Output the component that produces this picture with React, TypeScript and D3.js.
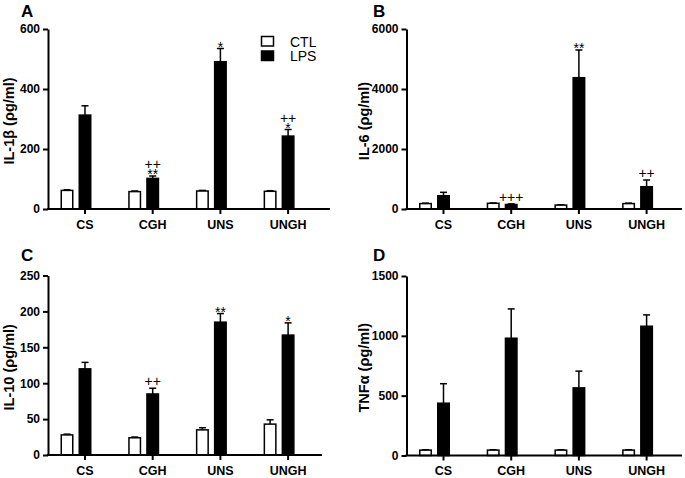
import * as d3 from "d3";
import { useEffect, useRef } from "react";

// groups and series
const categories = ["CS", "CGH", "UNS", "UNGH"];
const seriesNames = ["CTL", "LPS"];

// IL-1b (pg/ml)
const il1bCtl = [62, 58, 60, 59];
const il1bCtlSem = [2, 2, 2, 2];
const il1bLps = [313, 102, 491, 243];
const il1bLpsSem = [31, 8, 44, 22];
const il1bMarks = [[], ["++", "**"], ["*"], ["++", "*"]];

// IL-6 (pg/ml)
const il6Ctl = [180, 190, 130, 180];
const il6CtlSem = [15, 10, 10, 15];
const il6Lps = [443, 150, 4377, 743];
const il6LpsSem = [113, 20, 923, 224];
const il6Marks = [[], ["+++"], ["**"], ["++"]];

// IL-10 (pg/ml)
const il10Ctl = [28, 24, 35, 43];
const il10CtlSem = [1, 1, 3, 6];
const il10Lps = [120, 85, 185, 167];
const il10LpsSem = [9, 8, 12, 17];
const il10Marks = [[], ["++"], ["**"], ["*"]];

// TNFa (pg/ml)
const tnfCtl = [45, 45, 45, 45];
const tnfCtlSem = [3, 3, 3, 3];
const tnfLps = [437, 980, 565, 1080];
const tnfLpsSem = [163, 245, 140, 95];
const tnfMarks = [[], [], [], []];

const panels = [
    { letter: "A", title: "IL-1β (ρg/ml)", ctl: il1bCtl, ctlSem: il1bCtlSem, lps: il1bLps, lpsSem: il1bLpsSem, marks: il1bMarks, ticks: [0, 200, 400, 600] },
    { letter: "B", title: "IL-6 (ρg/ml)", ctl: il6Ctl, ctlSem: il6CtlSem, lps: il6Lps, lpsSem: il6LpsSem, marks: il6Marks, ticks: [0, 2000, 4000, 6000] },
    { letter: "C", title: "IL-10 (ρg/ml)", ctl: il10Ctl, ctlSem: il10CtlSem, lps: il10Lps, lpsSem: il10LpsSem, marks: il10Marks, ticks: [0, 50, 100, 150, 200, 250] },
    { letter: "D", title: "TNFα (ρg/ml)", ctl: tnfCtl, ctlSem: tnfCtlSem, lps: tnfLps, lpsSem: tnfLpsSem, marks: tnfMarks, ticks: [0, 500, 1000, 1500] },
];

// where each panel sits on the page
const layout = [
    { axisX: 48, axisEnd: 330, yTop: 29, yBottom: 209, titleX: 14, letterX: 21, letterY: 17 },
    { axisX: 406.5, axisEnd: 682, yTop: 29, yBottom: 209, titleX: 369, letterX: 373, letterY: 17 },
    { axisX: 48, axisEnd: 322, yTop: 275.5, yBottom: 455, titleX: 14, letterX: 21, letterY: 261 },
    { axisX: 406.5, axisEnd: 682, yTop: 276, yBottom: 455.5, titleX: 369, letterX: 373, letterY: 261 },
];

const FONT = "'Liberation Sans', Arial, sans-serif";

export default function App() {
    const svgRef = useRef<SVGSVGElement | null>(null);

    useEffect(() => {
        document.body.style.margin = "0";
        if (!svgRef.current) return;
        const svg = d3.select(svgRef.current);
        svg.selectAll("*").remove();

        panels.forEach((p, pi) => {
            const L = layout[pi];
            const g = svg.append("g");

            const yScale = d3.scaleLinear()
                .domain([0, p.ticks[p.ticks.length - 1]])
                .range([L.yBottom, L.yTop]);

            // groups of 67.7px, first bar 12.5px right of the axis
            const xGroup = d3.scaleBand<string>()
                .domain(categories)
                .range([L.axisX + 12.5, L.axisX + 12.5 + 67.7 * 4])
                .padding(0);

            const xInner = d3.scaleBand<string>()
                .domain(seriesNames)
                .range([0, 31])
                .paddingInner(5 / 18)
                .paddingOuter(0);

            const bw = xInner.bandwidth();

            // bars
            categories.forEach((c, i) => {
                const gx = xGroup(c)!;
                const rows = [
                    { name: "CTL", v: p.ctl[i], sem: p.ctlSem[i], fill: "white" },
                    { name: "LPS", v: p.lps[i], sem: p.lpsSem[i], fill: "black" },
                ];
                rows.forEach((r) => {
                    const x = gx + xInner(r.name)!;
                    const cx = x + bw / 2;
                    const top = yScale(r.v);
                    const errTop = yScale(r.v + r.sem);
                    // error bar (upper only)
                    g.append("line")
                        .attr("x1", cx).attr("x2", cx)
                        .attr("y1", top).attr("y2", errTop)
                        .attr("stroke", "black").attr("stroke-width", 1.5);
                    g.append("line")
                        .attr("x1", cx - 3.5).attr("x2", cx + 3.5)
                        .attr("y1", errTop).attr("y2", errTop)
                        .attr("stroke", "black").attr("stroke-width", 1.5);
                    g.append("rect")
                        .attr("x", x + 0.75)
                        .attr("y", top)
                        .attr("width", bw - 1.5)
                        .attr("height", L.yBottom - top)
                        .attr("fill", r.fill)
                        .attr("stroke", "black")
                        .attr("stroke-width", 1.5);
                });

                // significance marks above the LPS bar, stacked in one text
                const marks = p.marks[i];
                if (marks.length) {
                    const cx = gx + xInner("LPS")! + bw / 2;
                    const errTop = yScale(p.lps[i] + p.lpsSem[i]);
                    const last = marks[marks.length - 1];
                    const base = last.includes("*") ? errTop + 3 : errTop - 2;
                    const rowGap = 10;
                    const t = g.append("text")
                        .attr("text-anchor", "middle")
                        .style("font-family", FONT)
                        .style("font-size", "14px");
                    marks.forEach((m, k) => {
                        t.append("tspan")
                            .attr("x", cx)
                            .attr("y", base - (marks.length - 1 - k) * rowGap)
                            .text(m);
                    });
                }
            });

            // y axis
            const yAxis = g.append("g")
                .attr("transform", `translate(${L.axisX},0)`)
                .call(d3.axisLeft(yScale).tickValues(p.ticks).tickFormat(d3.format("d")).tickSize(5).tickPadding(3).tickSizeOuter(0));
            yAxis.select(".domain").attr("stroke-width", 2);
            yAxis.selectAll(".tick line").attr("stroke-width", 2);
            yAxis.selectAll(".tick text")
                .style("font-family", FONT)
                .style("font-size", "12px")
                .style("font-weight", "bold")
                .attr("fill", "black");

            // x axis line with ticks under the LPS bars
            g.append("line")
                .attr("x1", L.axisX - 1).attr("x2", L.axisEnd)
                .attr("y1", L.yBottom).attr("y2", L.yBottom)
                .attr("stroke", "black").attr("stroke-width", 2);
            categories.forEach((c) => {
                const tx = xGroup(c)! + xInner("LPS")! + bw / 2;
                g.append("line")
                    .attr("x1", tx).attr("x2", tx)
                    .attr("y1", L.yBottom).attr("y2", L.yBottom + 5)
                    .attr("stroke", "black").attr("stroke-width", 2);
                g.append("text")
                    .attr("x", tx)
                    .attr("y", L.yBottom + 19.5)
                    .attr("text-anchor", "middle")
                    .style("font-family", FONT)
                    .style("font-size", "12.5px")
                    .style("font-weight", "bold")
                    .text(c);
            });

            // y title
            g.append("text")
                .attr("transform", `translate(${L.titleX},${(L.yTop + L.yBottom) / 2 + 2}) rotate(-90)`)
                .attr("text-anchor", "middle")
                .style("font-family", FONT)
                .style("font-size", "14.5px")
                .style("font-weight", "bold")
                .text(p.title);

            // panel letter
            g.append("text")
                .attr("x", L.letterX)
                .attr("y", L.letterY)
                .style("font-family", FONT)
                .style("font-size", "17px")
                .style("font-weight", "bold")
                .text(p.letter);
        });

        // legend (panel A)
        const legend = svg.append("g");
        seriesNames.forEach((s, i) => {
            const y = 36.5 + i * 14.5;
            legend.append("rect")
                .attr("x", 261.5).attr("y", y)
                .attr("width", 12).attr("height", 9.5)
                .attr("fill", s === "CTL" ? "white" : "black")
                .attr("stroke", "black").attr("stroke-width", 1.5);
            legend.append("text")
                .attr("x", 290)
                .attr("y", y + 10)
                .style("font-family", FONT)
                .style("font-size", "14px")
                .text(s);
        });
    }, []);

    return <svg ref={svgRef} width={685} height={478} style={{ display: "block", background: "white" }} />;
}
